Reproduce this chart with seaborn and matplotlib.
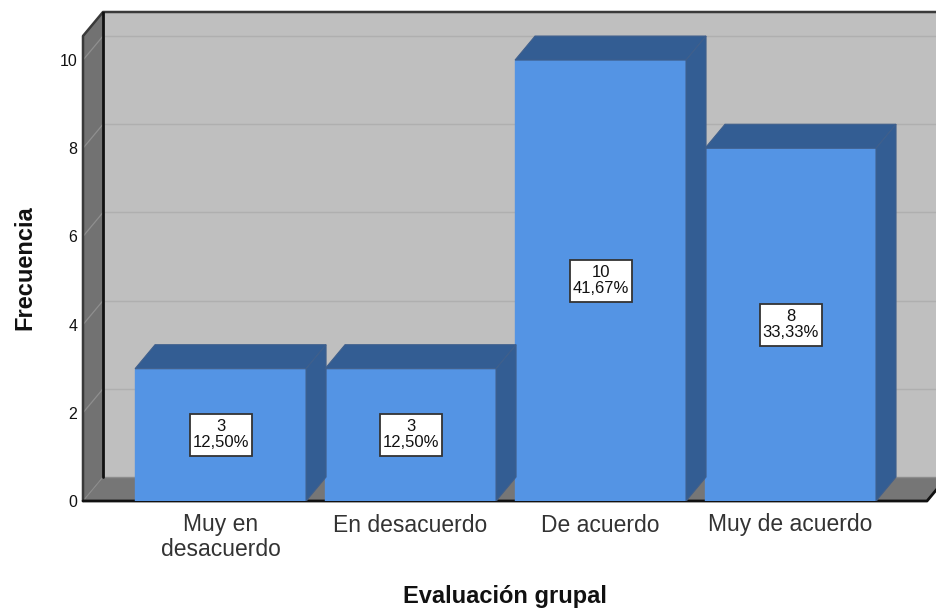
import matplotlib
matplotlib.use("Agg")
import matplotlib.pyplot as plt
from matplotlib.patches import Polygon, Rectangle
import pandas as pd
import seaborn as sns

categorias = ["Muy en\ndesacuerdo", "En desacuerdo", "De acuerdo", "Muy de acuerdo"]
frecuencias = [3, 3, 10, 8]
porcentajes = ["12,50%", "12,50%", "41,67%", "33,33%"]
ticks_y = [0, 2, 4, 6, 8, 10]

FRENTE = "#5494e4"
LADO = "#335d93"
BORDE = "#3f5f8c"
PARED = "#bfbfbf"
PISO = "#767676"
GRID = "#afafaf"

sns.set_style("white")
plt.rcParams["font.family"] = ["Liberation Sans", "DejaVu Sans"]

df = pd.DataFrame({"categoria": categorias, "frecuencia": frecuencias})

fig = plt.figure(figsize=(9.37, 6.08), dpi=100)
ax = fig.add_axes([83 / 937, 107 / 608, 854 / 937, 489 / 608])

sns.barplot(data=df, x="categoria", y="frecuencia", color=FRENTE, saturation=1,
            width=0.9, ax=ax, zorder=3)

# escala: 190 px por categoria, 44.1 px por unidad
x0, x1 = -0.724, 3.771
ymax = 11.09
dx = 20 / 190
dy = 24 / 44.1
ax.set_xlim(x0, x1)
ax.set_ylim(0, ymax)
x_frente = x1 - 10 / 190

# paredes y piso
ax.add_patch(Polygon([(x0 + dx, dy), (x1, dy), (x1, ymax), (x0 + dx, ymax)], fc=PARED, ec="none", zorder=0))
ax.add_patch(Polygon([(x0, 0), (x0 + dx, dy), (x0 + dx, ymax), (x0, ymax - dy)], fc="#727272", ec="none", zorder=0))
ax.add_patch(Polygon([(x0, 0), (x_frente, 0), (x_frente + dx, dy), (x0 + dx, dy)], fc=PISO, ec="none", zorder=0))

# lineas de cuadricula sobre las dos paredes
for v in ticks_y:
    if v == 0:
        ax.plot([x0, x0 + dx], [0, dy], color="#8a8a8a", lw=0.8, zorder=1)
        ax.plot([x0 + dx, x1], [dy, dy], color="#8c8c8c", lw=1, zorder=1)
    else:
        ax.plot([x0, x0 + dx], [v, v + dy], color="#8f8f8f", lw=0.9, zorder=1)
        ax.plot([x0 + dx, x1], [v + dy, v + dy], color=GRID, lw=1, zorder=1)

# bordes del cubo
ax.plot([x0, x0, x0 + dx, x1], [0, ymax - dy, ymax, ymax], color="#3a3a3a", lw=1.8, clip_on=False, zorder=2)
ax.plot([x0 + dx, x0 + dx], [dy, ymax], color="#111111", lw=2, zorder=2)
ax.plot([x0, x_frente, x_frente + dx], [0, 0, dy], color="#111111", lw=2, clip_on=False, zorder=2)

# caras laterales y superiores de cada barra
for barra, n, p in zip(ax.patches, frecuencias, porcentajes):
    izq = barra.get_x()
    der = izq + barra.get_width()
    alto = barra.get_height()
    barra.set_edgecolor(FRENTE)
    ax.add_patch(Polygon([(izq, alto), (der, alto), (der + dx, alto + dy), (izq + dx, alto + dy)],
                         fc=LADO, ec=BORDE, lw=0.8, zorder=3))
    ax.add_patch(Polygon([(der, 0), (der + dx, dy), (der + dx, alto + dy), (der, alto)],
                         fc=LADO, ec=BORDE, lw=0.8, zorder=3))
    # caja de la etiqueta: 62x42 px
    cx = (izq + der) / 2
    ancho_caja = 62 / 190
    alto_caja = 42 / 44.1
    ax.add_patch(Rectangle((cx - ancho_caja / 2, alto / 2 - alto_caja / 2), ancho_caja, alto_caja,
                           fc="white", ec="#333333", lw=1.3, zorder=5))
    ax.text(cx, alto / 2, f"{n}\n{p}", ha="center", va="center", fontsize=12,
            linespacing=1.08, color="#111111", zorder=6)

ax.grid(False)
sns.despine(ax=ax, left=True, bottom=True, top=True, right=True)
ax.set_yticks(ticks_y)
ax.set_yticklabels([str(v) for v in ticks_y], fontsize=11.5, color="#111111")
ax.tick_params(axis="y", length=0, pad=4)
ax.tick_params(axis="x", length=0, pad=9, labelsize=16.5, labelcolor="#333333")
for lab in ax.get_xticklabels():
    lab.set_linespacing(1.07)

ax.set_xlabel("Evaluación grupal", fontsize=17, fontweight="bold", color="#111111", va="center")
ax.xaxis.set_label_coords((504.5 - 83) / 854, -(597 - 501) / 489)
ax.set_ylabel("Frecuencia", fontsize=17, fontweight="bold", color="#111111", va="center")
ax.yaxis.set_label_coords((25 - 83) / 854, (501 - 268) / 489)

fig.savefig("out.png", dpi=100)
plt.close(fig)
